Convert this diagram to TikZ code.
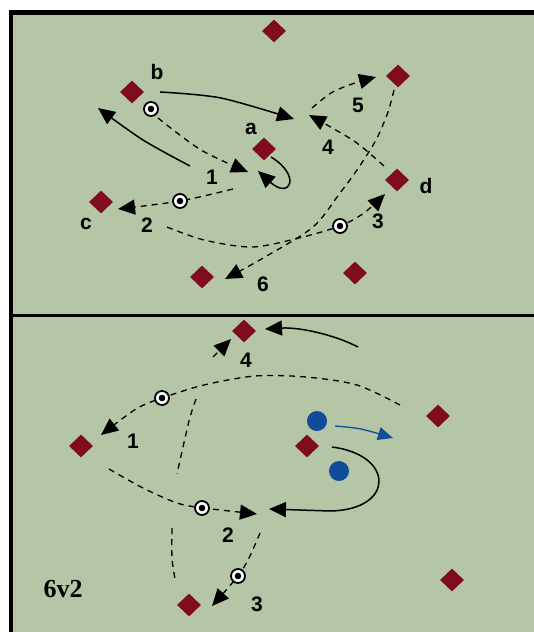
\documentclass[tikz,border=0pt]{standalone}
\usepackage{fontspec}
\setmainfont{Liberation Sans}
\newfontfamily\titlefont{Liberation Serif}
\usetikzlibrary{arrows.meta,shapes.geometric}

\definecolor{pitch}{RGB}{181,198,166}
\definecolor{cone}{RGB}{128,12,32}
\definecolor{defender}{RGB}{16,76,152}

\begin{document}
\begin{tikzpicture}[x=1pt,y=-1pt,
  player/.style={diamond, fill=cone, inner sep=0pt, minimum width=24pt, minimum height=23pt},
  ballmark/.style={circle, draw=black, fill=white, line width=1.8pt, minimum size=14pt, inner sep=0pt,
    path picture={\fill[black] (path picture bounding box.center) circle (3.3pt);}},
  opp/.style={circle, fill=defender, minimum size=20pt, inner sep=0pt},
  tag/.style={font=\bfseries\fontsize{21}{21}\selectfont, inner sep=0pt},
  head/.style={-{Triangle[length=17pt,width=15pt]}},
  pass/.style={dash pattern=on 6pt off 5pt, line width=1.3pt, head},
  track/.style={dash pattern=on 6pt off 5pt, line width=1.3pt},
  run/.style={line width=1.5pt, head},
  frameline/.style={line width=4.5pt},
]

% page and pitch
\useasboundingbox (0,0) rectangle (534,632);
\fill[white] (0,0) rectangle (534,632);
\fill[pitch] (11,12.5) rectangle (534,632);
\draw[frameline] (10.8,10.3) -- (10.8,632);
\draw[frameline] (8.5,12.5) -- (534,12.5);
\draw[line width=3pt] (11,315.8) -- (534,315.8);

% ---------------- upper drill ----------------
\coordinate (u1s) at (160,92);  \coordinate (u1m) at (221,98);  \coordinate (u1e) at (294,119);
\coordinate (u2s) at (190,166); \coordinate (u2m) at (143,140); \coordinate (u2e) at (98,108);
\coordinate (u3s) at (158,118); \coordinate (u3m) at (201,150); \coordinate (u3e) at (248,172);
\coordinate (u4s) at (271,157); \coordinate (u4e) at (258,171);
\coordinate (u5s) at (233,189); \coordinate (u5e) at (118,209);
\coordinate (u6s) at (167,227); \coordinate (u6a) at (204,240); \coordinate (u6b) at (252,247);
\coordinate (u6c) at (299,238); \coordinate (u6d) at (364,213); \coordinate (u6e) at (385,194);
\coordinate (u7s) at (394,90);  \coordinate (u7a) at (388,112); \coordinate (u7b) at (376,140);
\coordinate (u7c) at (357,170); \coordinate (u7d) at (340,193); \coordinate (u7f) at (313,227);
\coordinate (u7g) at (265,257); \coordinate (u7e) at (225,279);
\coordinate (u8s) at (384,166); \coordinate (u8m) at (354,141); \coordinate (u8e) at (309,115);
\coordinate (u9s) at (312,108); \coordinate (u9a) at (331,93);  \coordinate (u9b) at (352,84);
\coordinate (u9e) at (376,77);
\coordinate (ub1) at (151,109); \coordinate (ub2) at (180,201); \coordinate (ub3) at (340,226);

\draw[run] plot[smooth] coordinates {(u1s) (u1m) (u1e)};
\draw[run] plot[smooth] coordinates {(u2s) (u2m) (u2e)};
\draw[pass] plot[smooth] coordinates {(u3s) (u3m) (u3e)};
\draw[run] (u4s) .. controls (302,176) and (290,200) .. (u4e);
\draw[pass] plot[smooth] coordinates {(u5s) (ub2) (u5e)};
\draw[pass] plot[smooth] coordinates {(u6s) (u6a) (u6b) (u6c) (ub3) (u6d) (u6e)};
\draw[pass] plot[smooth] coordinates {(u7s) (u7a) (u7b) (u7c) (u7d) (u7f) (u7g) (u7e)};
\draw[pass] plot[smooth] coordinates {(u8s) (u8m) (u8e)};
\draw[pass] plot[smooth] coordinates {(u9s) (u9a) (u9b) (u9e)};

\node[player] (ut)  at (274,31)  {};
\node[player] (ub)  at (132,92)  {};
\node[player] (ua)  at (264,149) {};
\node[player] (uc)  at (101,202) {};
\node[player] (ud)  at (397,180) {};
\node[player] (ur)  at (398,76)  {};
\node[player] (ubl) at (202,277) {};
\node[player] (ubr) at (355,273) {};

\node[ballmark] at (ub1) {};
\node[ballmark] at (ub2) {};
\node[ballmark] at (ub3) {};

\node[tag] (lb) at (157,72)  {b};
\node[tag] (la) at (251,129) {a};
\node[tag] (lc) at (86,224)  {c};
\node[tag] (ld) at (426,186) {d};
\node[tag] (n1) at (212,177) {1};
\node[tag] (n2) at (147,225) {2};
\node[tag] (n3) at (378,221) {3};
\node[tag] (n4) at (328,147) {4};
\node[tag] (n5) at (358,105) {5};
\node[tag] (n6) at (263,284) {6};

% ---------------- lower drill ----------------
\coordinate (l1s) at (358,347); \coordinate (l1e) at (265,329);
\coordinate (l2s) at (213,357); \coordinate (l2e) at (231,339);
\coordinate (l3s) at (400,405); \coordinate (l3a) at (357,385); \coordinate (l3b) at (306,377);
\coordinate (l3c) at (255,376); \coordinate (l3d) at (204,385); \coordinate (l3f) at (136,409);
\coordinate (l3e) at (101,435);
\coordinate (l4s) at (196,399); \coordinate (l4m) at (189,421); \coordinate (l4e) at (177,474);
\coordinate (l5s) at (109,469); \coordinate (l5a) at (143,488); \coordinate (l5b) at (177,503);
\coordinate (l6e) at (257,514);
\coordinate (l7s) at (172,528); \coordinate (l7m) at (172,558); \coordinate (l7e) at (175,579);
\coordinate (l8s) at (260,533); \coordinate (l8m) at (249,558); \coordinate (l8e) at (212,606);
\coordinate (l9s) at (332,447); \coordinate (l9m) at (330,511); \coordinate (l9e) at (269,509);
\coordinate (lbs) at (335,426); \coordinate (lbm) at (361,429); \coordinate (lbe) at (393,438);
\coordinate (lb1) at (162,398); \coordinate (lb2) at (202,508); \coordinate (lb3) at (238,576);

\draw[run] (l1s) .. controls (335,335) and (300,327) .. (l1e);
\draw[pass] (l2s) -- (l2e);
\draw[pass] plot[smooth] coordinates {(l3s) (l3a) (l3b) (l3c) (l3d) (lb1) (l3f) (l3e)};
\draw[track] plot[smooth] coordinates {(l4s) (l4m) (l4e)};
\draw[track] plot[smooth] coordinates {(l5s) (l5a) (l5b) (lb2)};
\draw[pass] (lb2) -- (l6e);
\draw[track] plot[smooth] coordinates {(l7s) (l7m) (l7e)};
\draw[pass] plot[smooth] coordinates {(l8s) (l8m) (lb3) (l8e)};
\draw[run] (l9s) .. controls (395,455) and (395,510) .. (l9m) -- (l9e);
\draw[defender, line width=1.3pt, -{Triangle[length=15pt,width=13pt]}]
  plot[smooth] coordinates {(lbs) (lbm) (lbe)};

\node[player] (lt)  at (244,331) {};
\node[player] (ll)  at (81,446)  {};
\node[player] (lc)  at (307,446) {};
\node[player] (lr)  at (438,416) {};
\node[player] (lbt) at (189,605) {};
\node[player] (lbr) at (452,580) {};

\node[opp] (o1) at (317,421) {};
\node[opp] (o2) at (339,471) {};

\node[ballmark] at (lb1) {};
\node[ballmark] at (lb2) {};
\node[ballmark] at (lb3) {};

\node[tag] (m4) at (246,360) {4};
\node[tag] (m1) at (133,441) {1};
\node[tag] (m2) at (228,535) {2};
\node[tag] (m3) at (257,604) {3};
\node[font=\titlefont\bfseries\fontsize{26}{26}\selectfont, inner sep=0pt] (title) at (63,589) {6v2};

\end{tikzpicture}
\end{document}
